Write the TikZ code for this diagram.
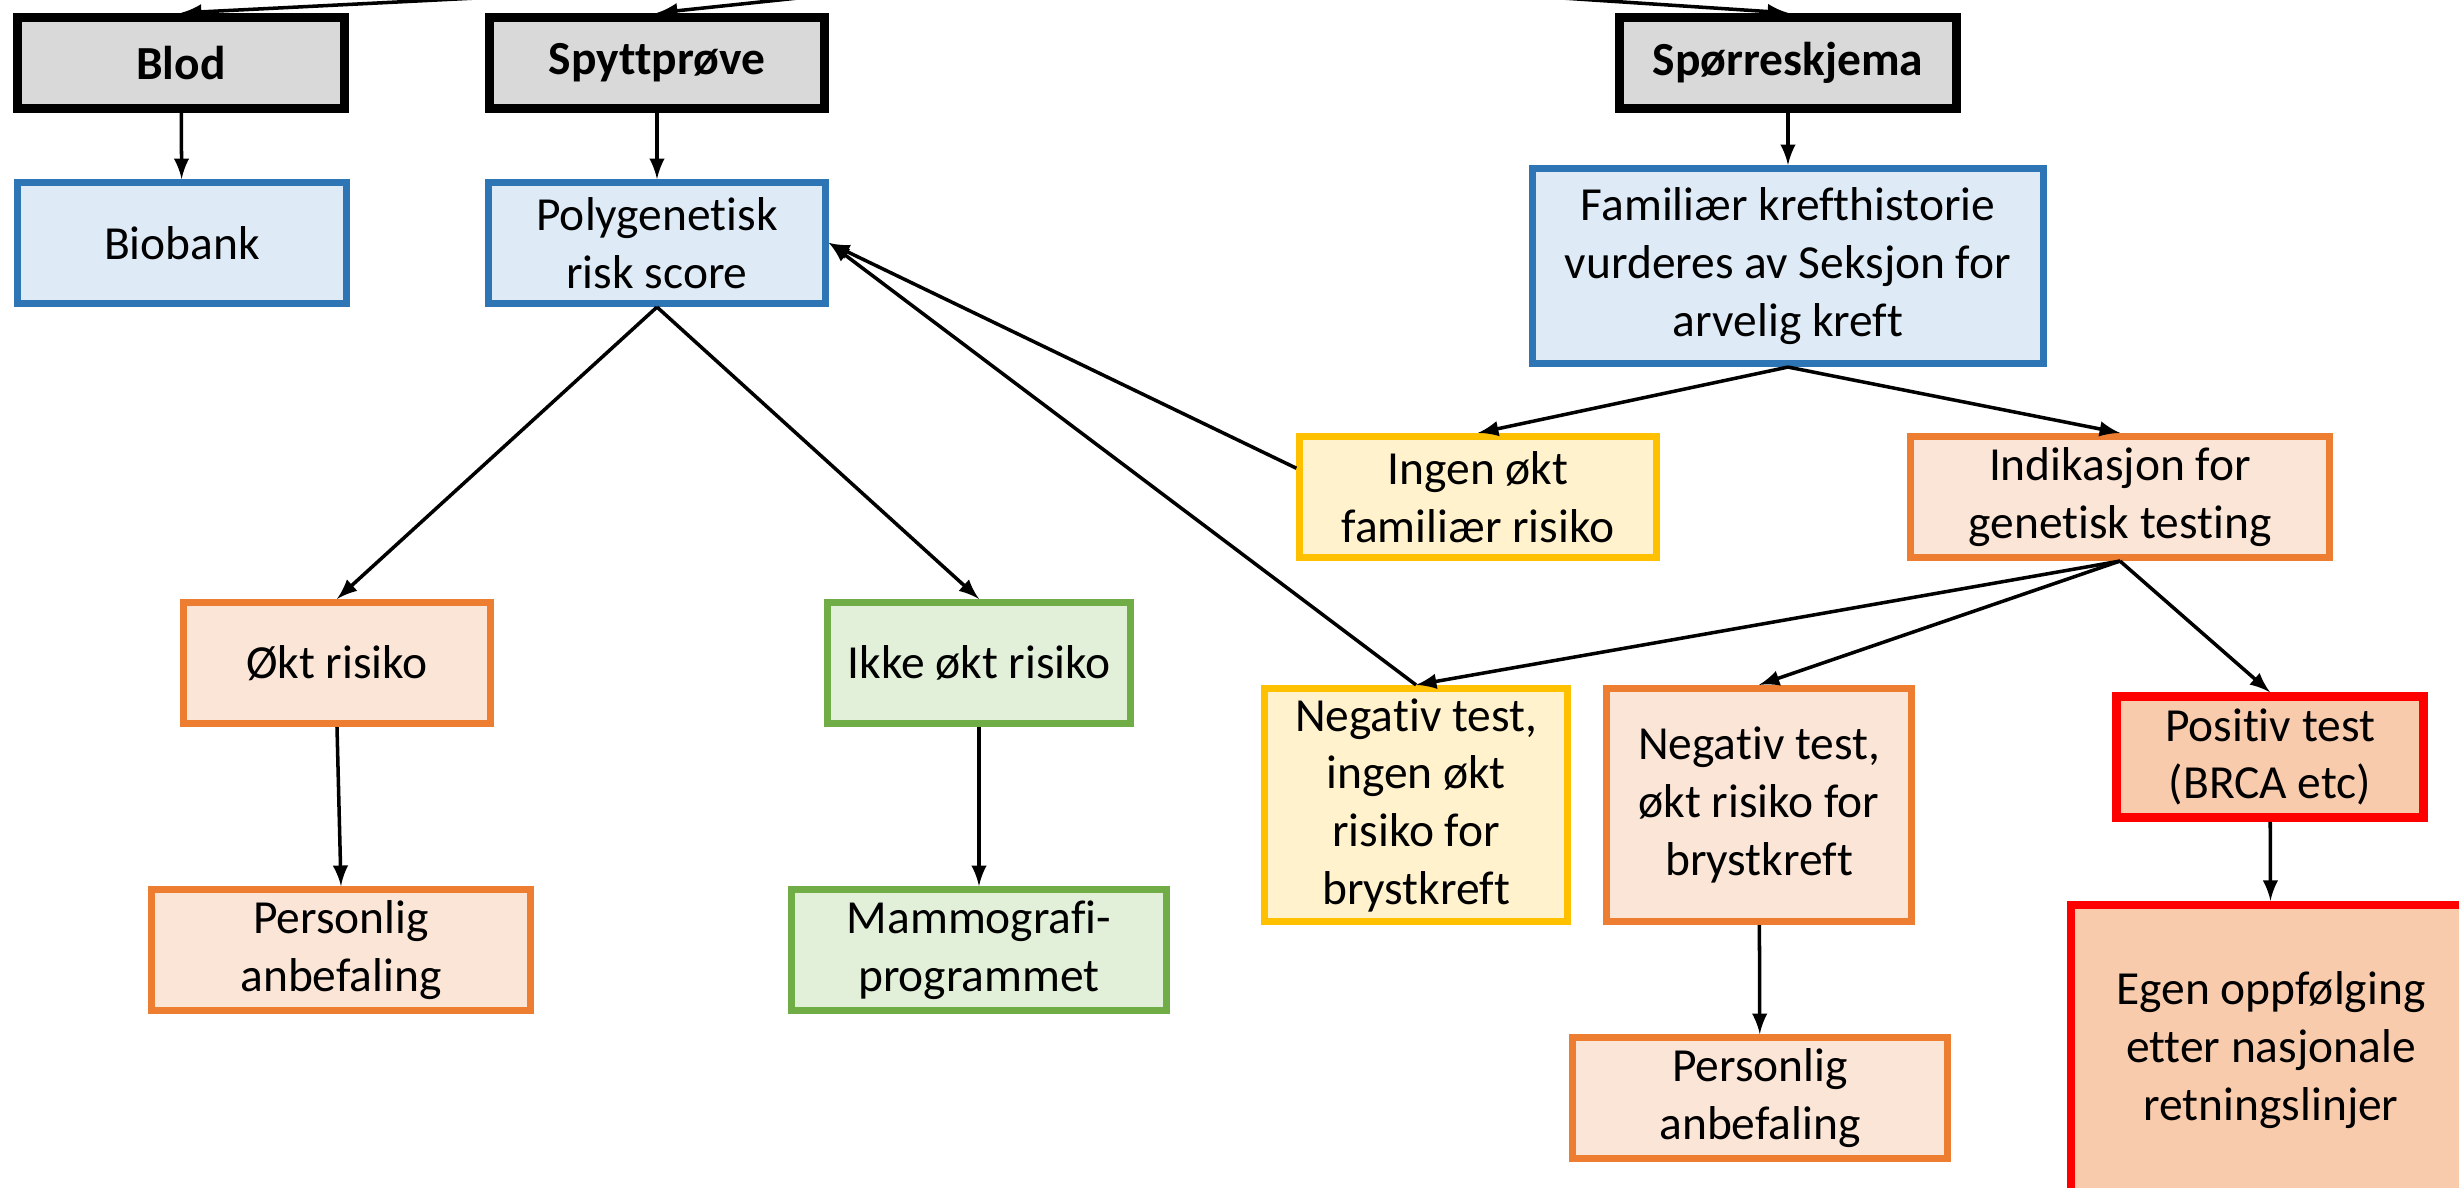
\documentclass[tikz,border=0pt]{standalone}
\usepackage{fontspec}
\setmainfont{Carlito}[Ligatures={NoCommon}]
\usetikzlibrary{positioning}
\definecolor{hdrfill}{HTML}{D9D9D9}
\definecolor{blueline}{HTML}{2E75B6}
\definecolor{bluefill}{HTML}{DEEBF7}
\definecolor{orangeline}{HTML}{ED7D31}
\definecolor{orangefill}{HTML}{FBE5D6}
\definecolor{greenline}{HTML}{70AD47}
\definecolor{greenfill}{HTML}{E2F0D9}
\definecolor{yellowline}{HTML}{FFC000}
\definecolor{yellowfill}{HTML}{FFF2CC}
\definecolor{redline}{HTML}{FF0000}
\definecolor{redfill}{HTML}{F8CBAD}

\begin{document}
\begin{tikzpicture}[x=0.01cm,y=-0.01cm,
      box/.style={rectangle,align=center,line width=2pt,inner sep=2pt,minimum height=1.21cm},
      header/.style={box,draw=black,fill=hdrfill,line width=2.6pt,minimum height=0.91cm,font=\bfseries},
      bluebox/.style={box,draw=blueline,fill=bluefill},
      orangebox/.style={box,draw=orangeline,fill=orangefill},
      greenbox/.style={box,draw=greenline,fill=greenfill},
      yellowbox/.style={box,draw=yellowline,fill=yellowfill},
      redbox/.style={box,draw=redline,fill=redfill,line width=2.4pt},
      arr/.style={line width=1pt,-latex}
      ]
      \fontsize{13.5}{16.4}\selectfont
      \clip (0,0) rectangle (2459,1188);
      \coordinate (src) at (1092,-33);
      % top row
      \node (blod)  [header,minimum width=3.27cm] at (181,63)  {Blod};
      \node (spytt) [header,minimum width=3.35cm] at (657,63)  {Spyttprøve};
      \node (sporr) [header,minimum width=3.36cm] at (1788,63) {Spørreskjema};
      \node (bio)   [bluebox,minimum width=3.28cm] at (182,243) {Biobank};
      \node (prs)   [bluebox,minimum width=3.37cm] at (657,243) {Polygenetisk\\risk score};
      \node (fam)   [bluebox,minimum width=5.10cm,minimum height=1.95cm] at (1788,266)
            {Familiær krefthistorie\\vurderes av Seksjon for\\arvelig kreft};
      \node (ingen) [yellowbox,minimum width=3.56cm] at (1478,497) {Ingen økt\\familiær risiko};
      \node (ind)   [orangebox,minimum width=4.18cm] at (2120,497) {Indikasjon for\\genetisk testing};
      % risk level
      \node (okt)   [orangebox,minimum width=3.07cm] at (337,663) {Økt risiko};
      \node (ikke)  [greenbox,minimum width=3.02cm]  at (979,663) {Ikke økt risiko};
      \node (neg1)  [yellowbox,minimum width=3.03cm,minimum height=2.33cm] at (1416,805)
            {Negativ test,\\ingen økt\\risiko for\\brystkreft};
      \node (neg2)  [orangebox,minimum width=3.05cm,minimum height=2.33cm] at (1759,805)
            {Negativ test,\\økt risiko for\\brystkreft};
      \node (pos)   [redbox,minimum width=3.07cm] at (2270,757) {Positiv test\\(BRCA etc)};
      % follow-up
      \node (pers1) [orangebox,minimum width=3.78cm] at (341,950)  {Personlig\\anbefaling};
      \node (mammo) [greenbox,minimum width=3.74cm]  at (979,950)  {Mammografi-\\programmet};
      \node (pers2) [orangebox,minimum width=3.74cm] at (1760,1098) {Personlig\\anbefaling};
      \node (egen)  [redbox,minimum width=4.0cm,minimum height=2.9cm] at (2271,1050)
            {Egen oppfølging\\etter nasjonale\\retningslinjer};
      \draw[arr] (src) -- (blod.north);
      \draw[arr] (src) -- (spytt.north);
      \draw[arr] (src) -- (sporr.north);
      \draw[arr] (blod) -- (bio);
      \draw[arr] (spytt) -- (prs);
      \draw[arr] (sporr) -- (fam);
      \draw[arr] (prs.south) -- (okt.north);
      \draw[arr] (prs.south) -- (ikke.north);
      \draw[arr] (fam.south) -- (ingen.north);
      \draw[arr] (fam.south) -- (ind.north);
      \draw[arr] (ingen.171) -- (prs.east);
      \draw[arr] (neg1.north) -- (prs.east);
      \draw[arr] (ind.south) -- (neg1.north);
      \draw[arr] (ind.south) -- (neg2.north);
      \draw[arr] (ind.south) -- (pos.north);
      \draw[arr] (okt.south) -- (pers1.north);
      \draw[arr] (ikke) -- (mammo);
      \draw[arr] (neg2) -- (pers2);
      \draw[arr] (pos) -- (egen);
    \end{tikzpicture}
\end{document}
